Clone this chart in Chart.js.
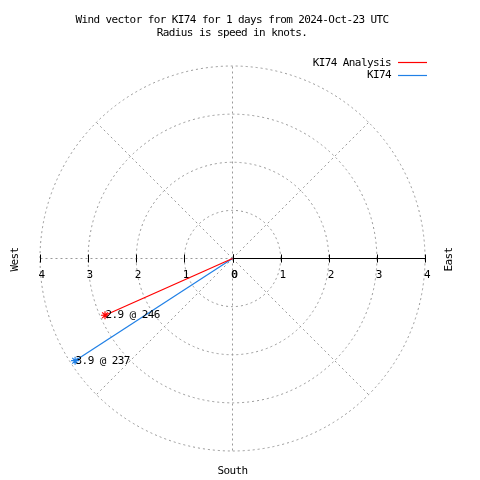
<!DOCTYPE html>
<html>
<head>
<meta charset="utf-8">
<script src="https://cdn.jsdelivr.net/npm/chart.js@4/dist/chart.umd.min.js"></script>
<style>
  html, body { margin: 0; padding: 0; background: #ffffff; }
  canvas { display: block; }
</style>
</head>
<body>
<canvas id="c" width="480" height="480"></canvas>
<script>
// ---- data ----
const seriesNames = ['KI74 Analysis', 'KI74'];
const seriesColors = ['#ff0000', '#2080e6'];
const windSpeeds = [2.9, 3.9];        // knots
const windDirections = [246, 237];    // degrees (from north, clockwise)
const ringRadii = [1, 2, 3, 4];
const tickValues = [0, 1, 2, 3, 4];
const titleLines = ['Wind vector for KI74 for 1 days from 2024-Oct-23 UTC', 'Radius is speed in knots.'];
const maxRadius = 4;

const FONT = '11px "DejaVu Sans Mono", "Liberation Mono", monospace';
const GRID = '#999999';

function setFont(ctx) {
  ctx.font = FONT;
  try { ctx.letterSpacing = '-0.6px'; } catch (e) {}
}

const datasets = seriesNames.map((name, i) => {
  const rad = windDirections[i] * Math.PI / 180;
  return {
    label: name,
    data: [{ x: 0, y: 0 }, { x: windSpeeds[i] * Math.sin(rad), y: windSpeeds[i] * Math.cos(rad) }],
    showLine: true,
    borderColor: seriesColors[i],
    backgroundColor: seriesColors[i],
    borderWidth: 1.2,
    pointRadius: [0, 4],
    pointHoverRadius: [0, 4],
    pointStyle: 'star',
    pointBorderColor: seriesColors[i],
    pointBorderWidth: 1.2
  };
});

const polarPlugin = {
  id: 'polarDecor',
  beforeDraw(chart) {
    const ctx = chart.ctx;
    ctx.save();
    ctx.fillStyle = '#ffffff';
    ctx.fillRect(0, 0, chart.width, chart.height);
    ctx.restore();
  },
  beforeDatasetsDraw(chart) {
    const ctx = chart.ctx;
    const xs = chart.scales.x, ys = chart.scales.y;
    const cx = xs.getPixelForValue(0), cy = ys.getPixelForValue(0);
    const unit = xs.getPixelForValue(1) - cx;
    ctx.save();
    ctx.strokeStyle = GRID;
    ctx.lineWidth = 1;
    ctx.setLineDash([2, 3]);
    ringRadii.forEach(r => {
      ctx.beginPath();
      ctx.arc(cx, cy, r * unit, 0, Math.PI * 2);
      ctx.stroke();
    });
    for (let a = 0; a < 360; a += 45) {
      const rad = a * Math.PI / 180;
      ctx.beginPath();
      ctx.moveTo(cx, cy);
      ctx.lineTo(xs.getPixelForValue(maxRadius * Math.sin(rad)), ys.getPixelForValue(maxRadius * Math.cos(rad)));
      ctx.stroke();
    }
    ctx.setLineDash([]);
    // solid positive axis
    ctx.strokeStyle = '#000000';
    ctx.beginPath();
    ctx.moveTo(cx, cy);
    ctx.lineTo(xs.getPixelForValue(maxRadius), cy);
    ctx.stroke();
    // tick marks
    tickValues.forEach(v => {
      [v, -v].forEach(val => {
        const px = Math.round(xs.getPixelForValue(val)) + 0.5;
        ctx.beginPath();
        ctx.moveTo(px, cy - 4);
        ctx.lineTo(px, cy + 4);
        ctx.stroke();
      });
    });
    // tick labels
    setFont(ctx);
    ctx.fillStyle = '#000000';
    ctx.textAlign = 'center';
    ctx.textBaseline = 'middle';
    tickValues.forEach(v => {
      ctx.fillText(String(v), xs.getPixelForValue(-v) + 1.5, cy + 17);
      ctx.fillText(String(v), xs.getPixelForValue(v) + 2, cy + 17);
    });
    ctx.restore();
  },
  afterDatasetsDraw(chart) {
    const ctx = chart.ctx;
    const xs = chart.scales.x, ys = chart.scales.y;
    const cy = ys.getPixelForValue(0);
    ctx.save();
    setFont(ctx);
    ctx.fillStyle = '#000000';
    ctx.textBaseline = 'middle';
    // point labels
    chart.data.datasets.forEach((ds, i) => {
      const pt = chart.getDatasetMeta(i).data[1];
      ctx.textAlign = 'left';
      ctx.fillText(windSpeeds[i].toFixed(1) + ' @ ' + windDirections[i], pt.x + 0.5, pt.y);
    });
    // title
    ctx.textAlign = 'center';
    ctx.fillText(titleLines[0], 232, 20);
    ctx.fillText(titleLines[1], 232, 33);
    // legend
    seriesNames.forEach((name, i) => {
      const y = 63 + i * 12.5;
      ctx.textAlign = 'right';
      ctx.fillStyle = '#000000';
      ctx.fillText(name, 391, y);
      ctx.strokeStyle = seriesColors[i];
      ctx.lineWidth = 1.2;
      ctx.beginPath();
      ctx.moveTo(398, Math.round(y) - 0.5);
      ctx.lineTo(427, Math.round(y) - 0.5);
      ctx.stroke();
    });
    // direction labels
    ctx.fillStyle = '#000000';
    ctx.textAlign = 'center';
    ctx.fillText('South', xs.getPixelForValue(0), 471);
    [['West', 15], ['East', 449]].forEach(([t, x]) => {
      ctx.save();
      ctx.translate(x, cy + 1);
      ctx.rotate(-Math.PI / 2);
      ctx.fillText(t, 0, 0);
      ctx.restore();
    });
    ctx.restore();
  }
};

new Chart(document.getElementById('c'), {
  type: 'scatter',
  data: { datasets },
  options: {
    responsive: false,
    animation: false,
    layout: { padding: { left: 40, right: 55, top: 66, bottom: 29 } },
    scales: {
      x: { type: 'linear', min: -maxRadius, max: maxRadius, display: false },
      y: { type: 'linear', min: -maxRadius, max: maxRadius, display: false }
    },
    plugins: {
      legend: { display: false },
      title: { display: false },
      tooltip: { enabled: false }
    },
    events: []
  },
  plugins: [polarPlugin]
});
</script>
</body>
</html>
